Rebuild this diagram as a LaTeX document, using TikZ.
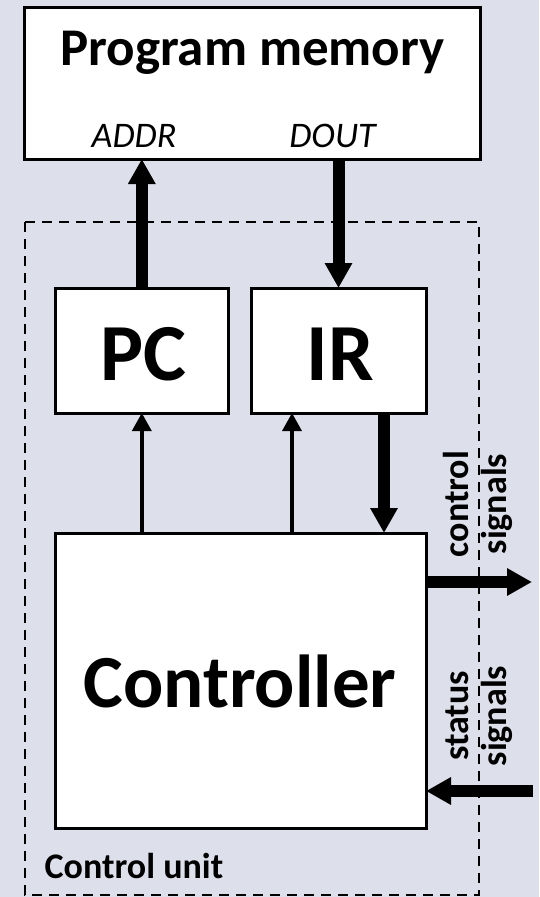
\documentclass[tikz,border=0pt]{standalone}
\usepackage{fontspec}
\setmainfont{Carlito}
\usetikzlibrary{arrows.meta}
\definecolor{bgcol}{RGB}{221,223,234}
\tikzset{
  box/.style={draw=black, line width=3pt, fill=white, inner sep=0pt, outer sep=0pt},
  bigarrow/.style={line width=12pt, -{Triangle[width=26pt,length=25pt]}},
  thinarrow/.style={line width=3.5pt, -{Triangle[width=19pt,length=18pt]}},
  boundary/.style={draw=black, line width=2.4pt, dash pattern=on 10pt off 7pt},
  lbl/.style={inner sep=0pt, anchor=base}
}
\begin{document}
\begin{tikzpicture}[x=1pt,y=-1pt]
  % backdrop
  \fill[bgcol] (0,0) rectangle (539,897);
  \useasboundingbox (0,0) rectangle (539,897);

  % dashed control-unit boundary
  \draw[boundary] (25,222) rectangle (479,895);

  % blocks
  \node[box, minimum width=456pt, minimum height=152pt] (mem) at (252,83) {};
  \node[box, minimum width=173.6pt, minimum height=125pt] (pc) at (141.8,350.5) {};
  \node[box, minimum width=175pt, minimum height=125pt] (ir) at (338.5,350.5) {};
  \node[box, minimum width=371pt, minimum height=295pt] (ctrl) at (240.5,680.5) {};

  % texts
  \node[lbl] (memt) at (252.5,65) {\fontsize{53}{53}\selectfont\bfseries Program memory};
  \node[lbl] (addr) at (134,147) {\fontsize{36}{36}\selectfont\itshape ADDR};
  \node[lbl] (dout) at (332.5,147) {\fontsize{36}{36}\selectfont\itshape DOUT};
  \node[lbl] (pct) at (143.5,380) {\fontsize{81}{81}\selectfont\bfseries PC};
  \node[lbl] (irt) at (340,380) {\fontsize{81}{81}\selectfont\bfseries IR};
  \node[lbl] (ctrlt) at (240,707) {\fontsize{75}{75}\selectfont\bfseries Controller};
  \node[lbl, anchor=base west] (cu) at (44.5,878) {\fontsize{36}{36}\selectfont\bfseries Control unit};

  \node[lbl, rotate=90] (ctl1) at (468,504) {\fontsize{36}{36}\selectfont\bfseries control};
  \node[lbl, rotate=90] (ctl2) at (506,504) {\fontsize{36}{36}\selectfont\bfseries signals};
  \node[lbl, rotate=90] (st1) at (468,716) {\fontsize{36}{36}\selectfont\bfseries status};
  \node[lbl, rotate=90] (st2) at (506,716) {\fontsize{36}{36}\selectfont\bfseries signals};

  % attachment points
  \coordinate (irload) at ([xshift=41pt]ir.south west);
  \coordinate (irout) at ([xshift=-42pt]ir.south east);
  \coordinate (ctlout) at (532,582);
  \coordinate (statin) at (533,791);

  % connectors
  \draw[bigarrow] (pc.north) -- (pc.north |- mem.south);
  \draw[bigarrow] (ir.north |- mem.south) -- (ir.north);
  \draw[thinarrow] (ctrl.north -| pc.south) -- (pc.south);
  \draw[thinarrow] (ctrl.north -| irload) -- (irload);
  \draw[bigarrow] (irout) -- (ctrl.north -| irout);
  \draw[bigarrow] (ctrl.east |- ctlout) -- (ctlout);
  \draw[bigarrow] (statin) -- (ctrl.east |- statin);
\end{tikzpicture}
\end{document}
